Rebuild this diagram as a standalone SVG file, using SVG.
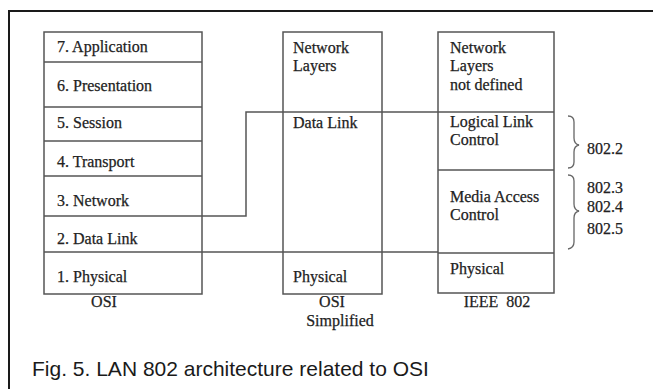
<svg xmlns="http://www.w3.org/2000/svg" width="653" height="389" viewBox="0 0 653 389">
  <style>
    .box { fill: none; stroke: #555555; stroke-width: 1.5; }
    .wire { fill: none; stroke: #555555; stroke-width: 1.5; }
    .brace { fill: none; stroke: #666666; stroke-width: 1.3; }
    .t { font-family: "Liberation Serif", "Times New Roman", serif; font-size: 16px; fill: #222222; stroke: #222222; stroke-width: 0.25; }
    .cap { font-family: "Liberation Sans", Arial, sans-serif; font-size: 21px; fill: #1a1a1a; }
  </style>
  <rect width="653" height="389" fill="#ffffff"/>
  <!-- outer frame -->
  <rect x="9" y="11" width="660" height="400" fill="none" stroke="#1a1a1a" stroke-width="2"/>

  <!-- OSI stack -->
  <g id="osi">
    <rect class="box" x="44" y="32" width="158" height="262"/>
    <path class="box" d="M44,62 H202 M44,107 H202 M44,141 H202 M44,176 H202 M44,216 H202 M44,252 H202"/>
    <text class="t" x="57" y="52">7. Application</text>
    <text class="t" x="57" y="91">6. Presentation</text>
    <text class="t" x="57" y="128">5. Session</text>
    <text class="t" x="57" y="167">4. Transport</text>
    <text class="t" x="57" y="206">3. Network</text>
    <text class="t" x="57" y="244">2. Data Link</text>
    <text class="t" x="57" y="282">1. Physical</text>
    <text class="t" x="104" y="307" text-anchor="middle">OSI</text>
  </g>

  <!-- simplified OSI -->
  <g id="osi-simplified">
    <rect class="box" x="283" y="32" width="99" height="262"/>
    <text class="t" x="293" y="53">Network</text>
    <text class="t" x="293" y="71">Layers</text>
    <text class="t" x="293" y="128">Data Link</text>
    <text class="t" x="293" y="282">Physical</text>
    <text class="t" x="332" y="307" text-anchor="middle">OSI</text>
    <text class="t" x="340" y="326" text-anchor="middle">Simplified</text>
  </g>

  <!-- IEEE 802 stack -->
  <g id="ieee802">
    <rect class="box" x="438" y="32" width="116" height="261"/>
    <path class="box" d="M438,112 H554 M438,170 H554 M438,253 H554"/>
    <text class="t" x="450" y="53">Network</text>
    <text class="t" x="450" y="71">Layers</text>
    <text class="t" x="450" y="90">not defined</text>
    <text class="t" x="450" y="127">Logical Link</text>
    <text class="t" x="450" y="145">Control</text>
    <text class="t" x="450" y="202">Media Access</text>
    <text class="t" x="450" y="220">Control</text>
    <text class="t" x="450" y="274">Physical</text>
    <text class="t" x="497" y="307" text-anchor="middle" style="white-space:pre">IEEE  802</text>
  </g>

  <!-- standards braces -->
  <g id="std-8022">
    <path class="brace" d="M568,116 Q574,116 574,122 V138 Q574,144 579,145 Q574,146 574,152 V162 Q574,168 568,168"/>
    <text class="t" x="587" y="154">802.2</text>
  </g>
  <g id="std-8023-5">
    <path class="brace" d="M568,175 Q574,175 574,181 V204 Q574,210 579,211 Q574,212 574,218 V242 Q574,248 568,249"/>
    <text class="t" x="587" y="193">802.3</text>
    <text class="t" x="587" y="212">802.4</text>
    <text class="t" x="587" y="234">802.5</text>
  </g>

  <!-- layer mapping lines -->
  <g id="connectors">
    <path class="wire" d="M202,216 H246 V112 H438"/>
    <path class="wire" d="M202,252 H438"/>
  </g>

  <text class="cap" x="32" y="376">Fig. 5. LAN 802 architecture related to OSI</text>
</svg>
